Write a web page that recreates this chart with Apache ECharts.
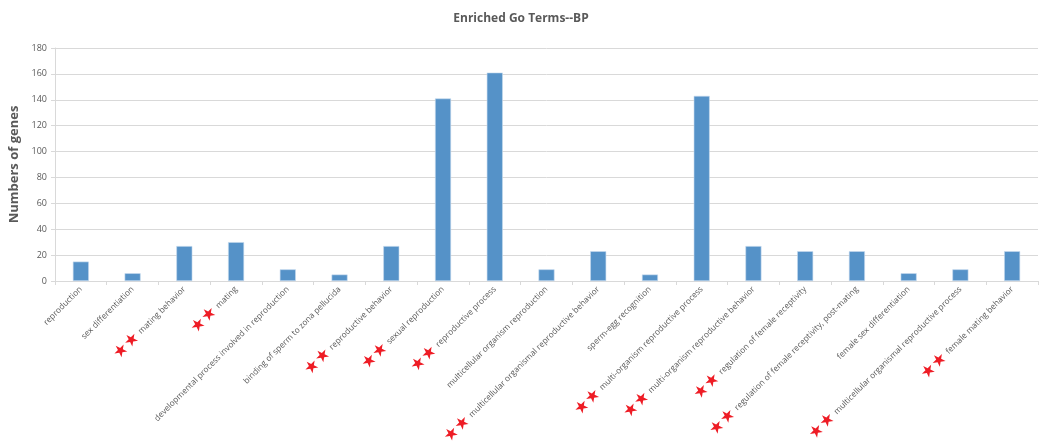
<!DOCTYPE html>
<html>
<head>
<meta charset="utf-8">
<script src="https://cdn.jsdelivr.net/npm/echarts@6/dist/echarts.min.js"></script>
<style>
  html, body { margin: 0; padding: 0; background: #fff; }
  #main { width: 1042px; height: 442px; }
</style>
</head>
<body>
<div id="main"></div>
<script>
// GO terms (BP) and gene counts
var terms = [
    'reproduction',
    'sex differentiation',
    'mating behavior',
    'mating',
    'developmental process involved in reproduction',
    'binding of sperm to zona pellucida',
    'reproductive behavior',
    'sexual reproduction',
    'reproductive process',
    'multicellular organism reproduction',
    'multicellular organismal reproductive behavior',
    'sperm-egg recognition',
    'multi-organism reproductive process',
    'multi-organism reproductive behavior',
    'regulation of female receptivity',
    'regulation of female receptivity, post-mating',
    'female sex differentiation',
    'multicellular organismal reproductive process',
    'female mating behavior'
];
var geneCounts = [15, 6, 27, 30, 9, 5, 27, 141, 161, 9, 23, 5, 143, 27, 23, 23, 6, 9, 23];
// terms marked with two red stars
var starred = [0, 0, 1, 1, 0, 0, 1, 1, 1, 0, 1, 0, 1, 1, 1, 1, 0, 1, 1];
var yTicks = [0, 20, 40, 60, 80, 100, 120, 140, 160, 180];

var textColor = '#595959';
var fontFam = '"Open Sans", "DejaVu Sans", sans-serif';

var chart = echarts.init(document.getElementById('main'));

var option = {
    animation: false,
    title: {
        text: 'Enriched Go Terms--BP',
        left: 'center',
        top: 8,
        textStyle: {
            color: textColor,
            fontSize: 12,
            fontWeight: 'bold',
            fontFamily: fontFam
        }
    },
    grid: {
        left: 55,
        right: 4,
        top: 48,
        bottom: 161,
        containLabel: false,
        outerBoundsMode: 'none'
    },
    xAxis: {
        type: 'category',
        data: terms,
        axisLine: { lineStyle: { color: '#d9d9d9' } },
        axisTick: { show: true, alignWithLabel: false, length: 4, lineStyle: { color: '#d9d9d9' } },
        axisLabel: {
            interval: 0,
            rotate: 45,
            margin: 7,
            formatter: function (val, idx) {
                if (starred[idx]) {
                    return '{s|★}{s|★} {t|' + val + '}';
                }
                return '{t|' + val + '}';
            },
            rich: {
                s: { color: '#ee1c25', fontSize: 17, fontFamily: '"DejaVu Sans"' },
                t: { color: textColor, fontSize: 8.3, fontFamily: fontFam }
            }
        }
    },
    yAxis: {
        type: 'value',
        min: yTicks[0],
        max: yTicks[yTicks.length - 1],
        interval: 20,
        name: 'Numbers of genes',
        nameLocation: 'middle',
        nameGap: 22,
        nameTextStyle: {
            color: textColor,
            fontSize: 13,
            fontWeight: 'bold',
            fontFamily: fontFam
        },
        axisLine: { show: true, lineStyle: { color: '#d9d9d9' } },
        axisTick: { show: true, length: 4, lineStyle: { color: '#d9d9d9' } },
        axisLabel: { color: textColor, fontSize: 9, fontFamily: fontFam, margin: 8 },
        splitLine: { lineStyle: { color: '#d9d9d9' } }
    },
    series: [{
        type: 'bar',
        data: geneCounts,
        barWidth: 16,
        itemStyle: {
            color: '#5592c8',
            borderColor: '#c6daee',
            borderWidth: 0.6
        }
    }]
};

chart.setOption(option);
</script>
</body>
</html>
